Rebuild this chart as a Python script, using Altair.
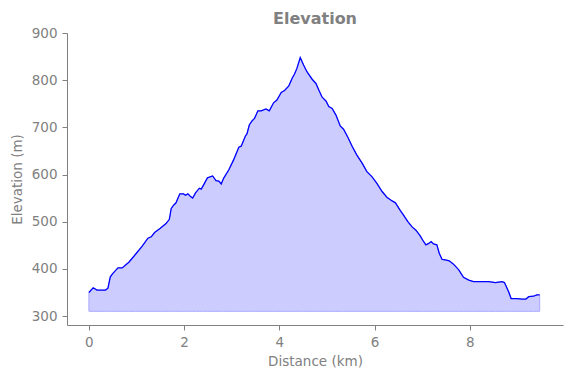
import altair as alt
import pandas as pd

distance_km = [0.0, 0.09, 0.17, 0.35, 0.40, 0.45, 0.50, 0.61, 0.70, 0.77, 0.84, 0.98, 1.12, 1.24, 1.31,
               1.38, 1.50, 1.62, 1.69, 1.73, 1.78, 1.83, 1.91, 1.99, 2.03, 2.08, 2.13, 2.18, 2.24, 2.32,
               2.36, 2.41, 2.49, 2.60, 2.67, 2.73, 2.78, 2.83, 2.94, 3.04, 3.15, 3.20, 3.29, 3.32, 3.37,
               3.43, 3.48, 3.55, 3.62, 3.72, 3.79, 3.88, 3.95, 4.04, 4.11, 4.20, 4.27, 4.32, 4.37, 4.44,
               4.51, 4.58, 4.69, 4.77, 4.83, 4.90, 4.98, 5.04, 5.11, 5.19, 5.28, 5.35, 5.44, 5.53, 5.63,
               5.74, 5.84, 5.95, 6.05, 6.16, 6.26, 6.37, 6.44, 6.54, 6.61, 6.70, 6.79, 6.87, 6.96, 7.03,
               7.08, 7.14, 7.19, 7.24, 7.31, 7.36, 7.42, 7.49, 7.57, 7.66, 7.77, 7.87, 7.98, 8.08, 8.26,
               8.40, 8.54, 8.68, 8.73, 8.82, 8.87, 8.99, 9.10, 9.18, 9.24, 9.34, 9.41, 9.47]
elevation_m = [350, 360, 355, 355, 359, 383, 390, 402, 402, 408, 414, 431, 448, 465, 468,
               477, 486, 496, 505, 528, 535, 540, 559, 559, 556, 559, 554, 550, 561, 571,
               569, 578, 593, 597, 587, 586, 580, 592, 610, 631, 658, 660, 682, 686, 705,
               714, 719, 735, 735, 739, 735, 752, 758, 774, 778, 788, 804, 813, 825, 848,
               832, 818, 802, 793, 779, 764, 756, 744, 740, 726, 703, 696, 679, 660, 641,
               624, 606, 595, 581, 564, 552, 544, 540, 524, 514, 500, 489, 482, 470, 458,
               451, 454, 458, 453, 451, 433, 420, 419, 417, 410, 398, 382, 376, 373, 373,
               373, 371, 373, 371, 351, 337, 337, 336, 336, 341, 342, 345, 345]
fill_base_m = 310
x_ticks = [0, 2, 4, 6, 8]
y_ticks = [300, 400, 500, 600, 700, 800, 900]

df = pd.DataFrame({"d": distance_km, "e": elevation_m})
df["base"] = fill_base_m

grey = "#808080"
font = "DejaVu Sans"

x = alt.X("d:Q", title="Distance (km)",
          scale=alt.Scale(domain=[-0.46, 9.96], nice=False, zero=False),
          axis=alt.Axis(values=x_ticks, grid=False, format="d"))
y = alt.Y("e:Q", title="Elevation (m)",
          scale=alt.Scale(domain=[281, 900], nice=False, zero=False),
          axis=alt.Axis(values=y_ticks, grid=False))

area = alt.Chart(df).mark_area(color="#ccccff", opacity=1, stroke="#aaaaff", strokeWidth=1).encode(
    x=x, y=y, y2="base:Q")
line = alt.Chart(df).mark_line(color="#0000ff", strokeWidth=1.3).encode(x=x, y=y)

chart = (area + line).properties(
    width=496, height=292,
    title=alt.Title("Elevation", font=font, fontSize=16, fontWeight="bold", color=grey, offset=-1),
    autosize=alt.AutoSizeParams(type="none"),
    padding={"left": 67, "top": 33, "right": 8, "bottom": 53},
).configure_view(stroke=None).configure_axis(
    domainColor=grey, tickColor=grey, labelColor=grey, titleColor=grey,
    labelFont=font, titleFont=font, labelFontSize=13.5, titleFontSize=13.5,
    titleFontWeight="normal", tickSize=5, labelPadding=5, domainWidth=1, tickWidth=1,
).configure_axisY(titlePadding=7).configure_axisX(titlePadding=6)

chart.save("out.html", embed_options={"renderer": "svg", "actions": False})
